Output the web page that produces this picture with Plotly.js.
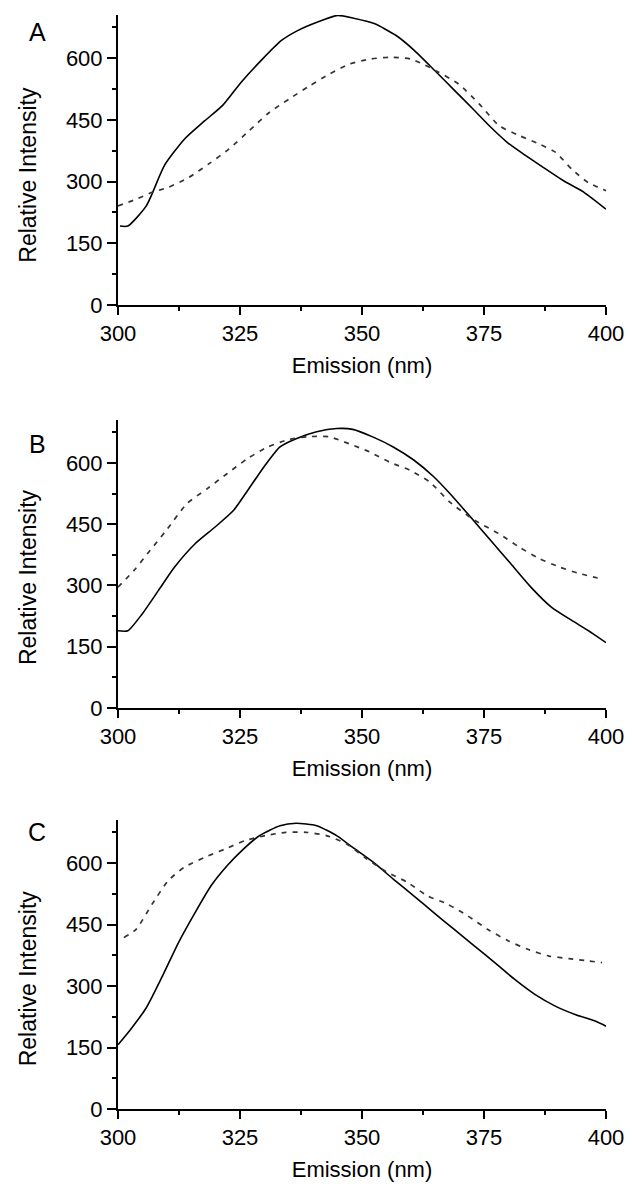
<!DOCTYPE html>
<html>
<head>
<meta charset="utf-8">
<script src="https://cdn.plot.ly/plotly-3.0.1.min.js"></script>
<style>html,body{margin:0;padding:0;background:#fff;}#chart{width:632px;height:1187px;}</style>
</head>
<body>
<div id="chart"></div>
<script>
// Panel A
const aSolidX = [300.4, 302, 305.8, 309.5, 313.6, 317.8, 321.5, 325.2, 329.3, 333.5, 336.8, 340.9, 345, 348.3, 352.5, 357, 360.7, 364.9, 369, 372.7, 376.4, 379.8, 383.1, 387.2, 391.3, 395.5, 400];
const aSolidY = [192, 192, 241, 339, 403, 448, 486, 541, 594, 643, 667, 688, 704, 697, 684, 655, 619, 570, 521, 477, 432, 395, 367, 334, 302, 274, 233];
const aDashX = [300, 303.7, 307, 310.3, 314.5, 318.6, 322.7, 326.9, 331, 335.1, 339.3, 343.4, 347.5, 351.7, 355.8, 360, 362.4, 365.7, 369.8, 374, 378.1, 382.2, 386.4, 389.7, 393, 396.3, 400];
const aDashY = [241, 257, 274, 286, 310, 343, 379, 424, 468, 501, 533, 562, 586, 598, 602, 598, 586, 566, 537, 489, 436, 412, 391, 371, 330, 298, 278];
// Panel B
const bSolidX = [300, 302, 305, 308.3, 311.6, 315.8, 319.9, 323.7, 326.6, 329.9, 333.2, 336.5, 340.7, 344.8, 348.1, 352.3, 356.4, 360.6, 364.7, 368, 372.2, 376.3, 380.5, 384.6, 388.8, 392.9, 396.3, 400];
const bSolidY = [189, 189, 231, 288, 345, 402, 443, 484, 533, 590, 639, 659, 676, 684, 682, 663, 639, 607, 566, 525, 468, 411, 353, 296, 247, 215, 190, 160];
const bDashX = [300, 303.3, 306.6, 309.9, 314.1, 318.3, 322.4, 326.6, 330.7, 334.9, 339, 343.2, 347.3, 351.5, 355.6, 359.8, 363.9, 368, 373, 378, 382.2, 386.3, 390.5, 394.6, 398.8];
const bDashY = [296, 337, 386, 435, 500, 537, 574, 611, 639, 657, 664, 664, 647, 627, 602, 582, 553, 504, 460, 427, 394, 366, 345, 329, 317];
// Panel C
const cSolidX = [300, 302.5, 305.8, 309.1, 312.4, 315.8, 319.1, 322.4, 325.7, 329, 333.2, 336.5, 340.7, 344.8, 348.1, 352.3, 356.4, 360.6, 364.7, 368.9, 373, 377.2, 381.3, 385.5, 389.6, 393.8, 397.9, 400];
const cSolidY = [157, 193, 247, 324, 406, 479, 545, 594, 634, 667, 691, 697, 691, 667, 638, 602, 561, 520, 479, 438, 398, 357, 316, 279, 251, 230, 214, 202];
const cDashX = [301.2, 303.7, 307, 310.3, 313.6, 317.8, 321.9, 326.1, 330.2, 334.4, 338.5, 342.7, 346.8, 351, 355.1, 359.3, 363.4, 367.5, 371.7, 375.8, 380, 384.1, 388.3, 392.4, 396.5, 399.2];
const cDashY = [418, 438, 500, 557, 590, 614, 634, 655, 667, 675, 675, 667, 647, 610, 578, 553, 520, 500, 471, 438, 410, 389, 373, 367, 361, 357];

const xTickVals = [300, 325, 350, 375, 400];
const yTickVals = [0, 150, 300, 450, 600];
const panelLabels = ["A", "B", "C"];
const xTitle = "Emission (nm)";
const yTitle = "Relative Intensity";

const FONT = "Liberation Sans, Arial, sans-serif";
const solid = {color: "#000", width: 1.6, shape: "spline", smoothing: 0.6};
const dashed = {color: "#333", width: 1.7, dash: "5px,6px", shape: "spline", smoothing: 0.6};

const traces = [
  {x: aSolidX, y: aSolidY, line: solid, xaxis: "x", yaxis: "y"},
  {x: aDashX, y: aDashY, line: dashed, xaxis: "x", yaxis: "y"},
  {x: bSolidX, y: bSolidY, line: solid, xaxis: "x2", yaxis: "y2"},
  {x: bDashX, y: bDashY, line: dashed, xaxis: "x2", yaxis: "y2"},
  {x: cSolidX, y: cSolidY, line: solid, xaxis: "x3", yaxis: "y3"},
  {x: cDashX, y: cDashY, line: dashed, xaxis: "x3", yaxis: "y3"}
].map(t => Object.assign({type: "scatter", mode: "lines", hoverinfo: "skip"}, t));

function xax(anchor) {
  return {
    anchor: anchor, domain: [0, 1], range: [300, 400],
    tickmode: "array", tickvals: xTickVals, ticktext: xTickVals.map(String),
    ticks: "outside", ticklen: 8, tickwidth: 2, tickcolor: "#000",
    minor: {ticks: "outside", ticklen: 4, tickwidth: 2, tickcolor: "#000", dtick: 12.5, tick0: 300},
    showline: true, linewidth: 2, linecolor: "#000", showgrid: false, zeroline: false,
    tickfont: {family: FONT, size: 22, color: "#000"},
    title: {text: xTitle, font: {family: FONT, size: 22, color: "#000"}, standoff: 12},
    automargin: false
  };
}
function yax(anchor, dom) {
  return {
    anchor: anchor, domain: dom, range: [0, 705],
    tickmode: "array", tickvals: yTickVals, ticktext: yTickVals.map(String),
    ticks: "outside", ticklen: 9, tickwidth: 2, tickcolor: "#000",
    minor: {ticks: "outside", ticklen: 4, tickwidth: 2, tickcolor: "#000", dtick: 75, tick0: 0},
    showline: true, linewidth: 2, linecolor: "#000", showgrid: false, zeroline: false,
    tickfont: {family: FONT, size: 22, color: "#000"},
    automargin: false
  };
}

const doms = [[0.7430, 0.9874], [0.4035, 0.6462], [0.0657, 0.3092]];
const labelY = [0.973, 0.626, 0.299];
// y-title centres (paper fraction), slightly below the middle of each plot, as in the original
const yTitleY = [0.853, 0.514, 0.176];
const annotations = [];
panelLabels.forEach((t, i) => {
  annotations.push({
    text: t, xref: "paper", yref: "paper", x: -0.165, y: labelY[i],
    xanchor: "center", yanchor: "middle", showarrow: false,
    font: {family: FONT, size: 25, color: "#000"}
  });
  annotations.push({
    text: yTitle, xref: "paper", yref: "paper", x: -0.184, y: yTitleY[i],
    xanchor: "center", yanchor: "middle", textangle: -90, showarrow: false,
    font: {family: FONT, size: 23, color: "#000"}
  });
});

const layout = {
  width: 632, height: 1187,
  margin: {l: 118, r: 26, t: 0, b: 0},
  paper_bgcolor: "#fff", plot_bgcolor: "#fff",
  showlegend: false,
  xaxis: xax("y"), yaxis: yax("x", doms[0]),
  xaxis2: xax("y2"), yaxis2: yax("x2", doms[1]),
  xaxis3: xax("y3"), yaxis3: yax("x3", doms[2]),
  annotations: annotations
};

Plotly.newPlot("chart", traces, layout, {staticPlot: true, displayModeBar: false});
</script>
</body>
</html>
